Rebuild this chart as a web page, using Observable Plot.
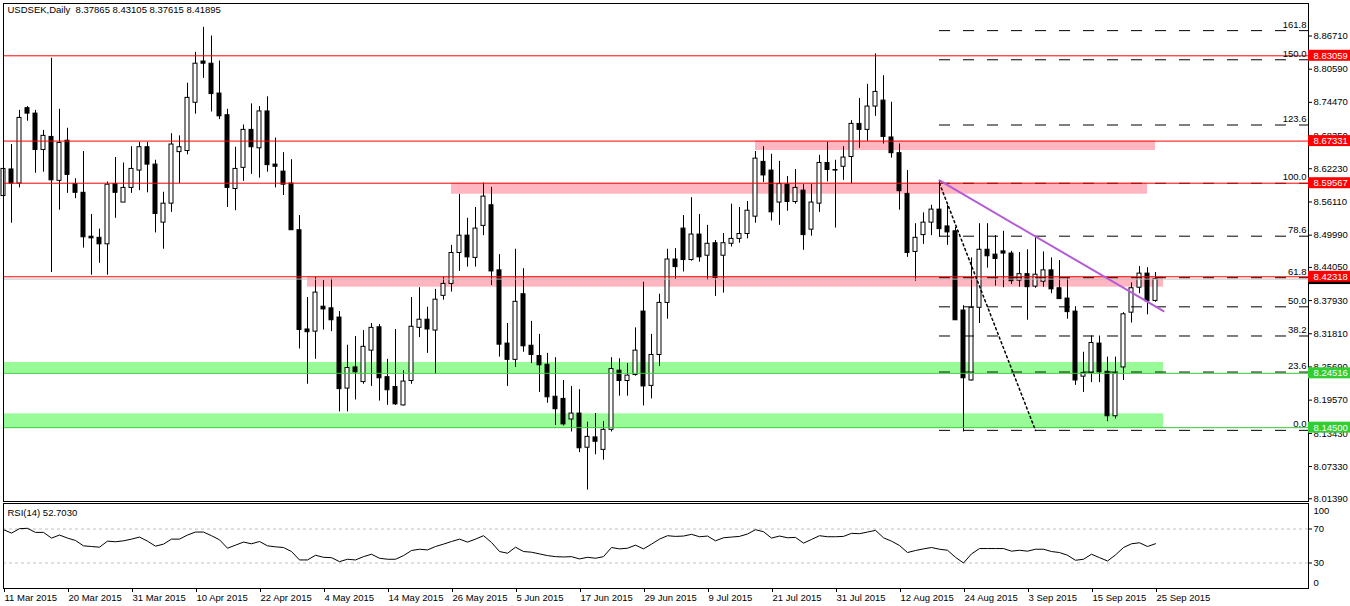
<!DOCTYPE html>
<html><head><meta charset="utf-8">
<script src="https://cdn.jsdelivr.net/npm/d3@7"></script>
<script src="https://cdn.jsdelivr.net/npm/@observablehq/plot@0.6"></script>
<style>
html,body{margin:0;padding:0;background:#fff;}
#chart{width:1350px;height:606px;overflow:hidden;}
#chart svg{display:block;}
</style></head><body><div id="chart"></div>
<script>
const symbol = "USDSEK,Daily";
const open = [8.572,8.621,8.595,8.734,8.724,8.657,8.681,8.600,8.674,8.594,8.578,8.497,8.495,8.483,8.594,8.560,8.587,8.619,8.662,8.630,
8.523,8.558,8.653,8.655,8.744,8.820,8.816,8.761,8.721,8.585,8.624,8.694,8.660,8.728,8.630,8.617,8.595,8.509,8.326,8.322,
8.368,8.365,8.348,8.217,8.256,8.229,8.287,8.330,8.238,8.220,8.186,8.231,8.329,8.344,8.324,8.388,8.410,8.467,8.499,8.458,
8.517,8.555,8.435,8.300,8.270,8.391,8.296,8.277,8.261,8.202,8.198,8.160,8.171,8.108,8.127,8.104,8.141,8.250,8.231,8.242,
8.359,8.222,8.279,8.375,8.455,8.512,8.454,8.501,8.462,8.485,8.462,8.484,8.493,8.502,8.534,8.635,8.619,8.560,8.593,8.561,
8.582,8.510,8.558,8.633,8.620,8.626,8.644,8.705,8.694,8.737,8.748,8.680,8.651,8.576,8.469,8.500,8.523,8.547,8.516,8.507,
8.361,8.232,8.366,8.473,8.464,8.470,8.466,8.416,8.428,8.405,8.414,8.435,8.402,8.383,8.359,8.239,8.246,8.300,8.248,8.166,
8.256,8.357,8.403,8.429,8.37865];
const high = [8.663,8.667,8.730,8.737,8.730,8.693,8.826,8.732,8.697,8.604,8.654,8.538,8.511,8.598,8.643,8.633,8.663,8.671,8.671,8.638,
8.579,8.687,8.683,8.780,8.837,8.883,8.867,8.821,8.732,8.662,8.703,8.742,8.737,8.755,8.679,8.652,8.639,8.536,8.385,8.422,
8.416,8.419,8.359,8.297,8.313,8.324,8.337,8.335,8.271,8.326,8.250,8.385,8.403,8.367,8.400,8.422,8.481,8.575,8.531,8.551,
8.596,8.588,8.464,8.337,8.474,8.438,8.341,8.317,8.282,8.274,8.232,8.221,8.215,8.155,8.171,8.156,8.274,8.272,8.263,8.329,
8.413,8.317,8.391,8.474,8.475,8.536,8.569,8.538,8.518,8.490,8.503,8.557,8.551,8.562,8.654,8.663,8.649,8.636,8.608,8.621,
8.593,8.594,8.647,8.671,8.638,8.663,8.711,8.752,8.778,8.834,8.794,8.745,8.668,8.619,8.521,8.541,8.555,8.601,8.555,8.514,
8.370,8.458,8.521,8.521,8.499,8.507,8.470,8.468,8.473,8.497,8.469,8.458,8.453,8.421,8.368,8.284,8.314,8.314,8.275,8.275,
8.357,8.412,8.442,8.440,8.43105];
const low = [8.530,8.522,8.587,8.710,8.614,8.616,8.431,8.546,8.577,8.567,8.476,8.426,8.448,8.426,8.531,8.560,8.577,8.582,8.578,8.504,
8.474,8.542,8.595,8.648,8.723,8.789,8.727,8.713,8.551,8.545,8.599,8.612,8.605,8.616,8.587,8.573,8.509,8.290,8.225,8.271,
8.325,8.322,8.174,8.174,8.196,8.225,8.221,8.194,8.186,8.186,8.185,8.225,8.311,8.282,8.244,8.380,8.395,8.433,8.441,8.441,
8.499,8.407,8.275,8.221,8.256,8.284,8.263,8.210,8.190,8.149,8.148,8.137,8.099,8.030,8.095,8.085,8.137,8.203,8.203,8.240,
8.185,8.198,8.258,8.345,8.418,8.432,8.452,8.450,8.417,8.387,8.393,8.478,8.485,8.493,8.522,8.597,8.526,8.518,8.544,8.557,
8.472,8.498,8.542,8.598,8.513,8.601,8.595,8.660,8.673,8.719,8.668,8.642,8.546,8.459,8.415,8.483,8.499,8.496,8.481,8.343,
8.137,8.231,8.337,8.439,8.406,8.403,8.409,8.404,8.343,8.402,8.404,8.392,8.382,8.345,8.223,8.210,8.228,8.228,8.156,8.161,
8.232,8.338,8.392,8.353,8.37615];
const close = [8.622,8.595,8.716,8.724,8.657,8.683,8.601,8.670,8.611,8.578,8.496,8.494,8.483,8.593,8.578,8.587,8.622,8.662,8.630,8.539,
8.558,8.667,8.662,8.753,8.816,8.816,8.760,8.719,8.587,8.622,8.694,8.662,8.728,8.629,8.626,8.593,8.509,8.325,8.321,8.394,
8.363,8.343,8.216,8.255,8.247,8.294,8.329,8.236,8.214,8.188,8.230,8.331,8.344,8.326,8.381,8.410,8.467,8.499,8.459,8.512,
8.571,8.433,8.298,8.270,8.377,8.295,8.279,8.260,8.201,8.179,8.151,8.171,8.107,8.128,8.119,8.141,8.253,8.231,8.241,8.287,
8.221,8.279,8.375,8.455,8.441,8.454,8.501,8.459,8.484,8.421,8.485,8.493,8.502,8.545,8.641,8.610,8.542,8.594,8.561,8.587,
8.500,8.560,8.633,8.620,8.619,8.643,8.705,8.694,8.737,8.764,8.681,8.651,8.581,8.467,8.495,8.523,8.547,8.511,8.505,8.343,
8.236,8.366,8.473,8.461,8.456,8.466,8.415,8.428,8.404,8.427,8.435,8.400,8.382,8.358,8.232,8.246,8.301,8.247,8.166,8.245,
8.354,8.402,8.429,8.378,8.41895];
const rsi = [69.2,65.2,70.4,70.8,66,66,59.3,62.9,59.3,56.5,50.2,49.4,48.6,55.7,55,56.1,58.1,60.5,55.7,49.8,
52.2,58.1,58.1,62.9,66.4,66.4,62.1,57.3,47.4,51,54.6,52.6,55.3,50.2,49,48.2,43.5,33.6,33.6,39.1,
36.7,36.3,31.6,34.4,33.6,37.5,40.3,35.6,34.4,34.4,38.7,44.7,46.2,45.4,49.4,52.2,55.3,58.1,54.6,58.1,
62.1,54.2,43.5,41.5,48.6,43.5,42.7,40.7,38.7,37.5,37.1,37.5,34.8,36.7,35.6,37.5,48.2,46.6,47.4,51,
46.6,52.2,58.1,62.1,61.3,61.7,63.7,60.9,61.7,56.1,59.7,60.5,61.3,64.1,69.2,66.8,59.3,61.7,59.7,60.1,
53.4,57.7,62.1,60.9,60.9,61.3,64.9,64.5,66.4,68.4,59.7,55.7,50.6,42.3,44.7,46.6,48.2,46.2,45,36.7,
30,40.7,47,47,47,47,43.9,45,43.9,46.2,46.2,43.5,42.3,39.1,33.2,34.4,40.3,36.3,32.4,39.5,
48.2,52.6,53.8,49.4,52.703];
const dateTickIdx = [0,8,16,24,32,40,48,56,64,72,80,88,96,104,112,120,128,136,144];
const dateLabels = ["11 Mar 2015","20 Mar 2015","31 Mar 2015","10 Apr 2015","22 Apr 2015","4 May 2015","14 May 2015","26 May 2015","5 Jun 2015","17 Jun 2015","29 Jun 2015","9 Jul 2015","21 Jul 2015","31 Jul 2015","12 Aug 2015","24 Aug 2015","3 Sep 2015","15 Sep 2015","25 Sep 2015"];
const priceTicks = [8.86710,8.80590,8.74470,8.68350,8.62230,8.56110,8.49990,8.44050,8.37930,8.31810,8.25690,8.19570,8.13430,8.07330,8.01390];
const redLevels = [8.83059,8.67331,8.59567,8.42318];
const greenLevels = [8.24516,8.14500];
const pinkZoneStart = [94,56,38];
const pinkZoneEnd = [144,143,145];
const pinkZoneTop = [8.6733,8.5957,8.4232];
const pinkZoneBottom = [8.6560,8.5754,8.4040];
const greenZoneStart = [0,0];
const greenZoneEnd = [145,145];
const greenZoneTop = [8.2651,8.1705];
const greenZoneBottom = [8.2452,8.1450];
const fibLevels = [0,23.6,38.2,50,61.8,78.6,100,123.6,150,161.8];
const fibAnchorIdx = [117,129];
const fibAnchorPrice = [8.5955,8.1400];
const trendIdx = [117,145];
const trendPrice = [8.6007,8.3597];
const rsiLevels = [70,30];

// ---- layout ----
const W = 1350;
const FONT = "'Liberation Sans', Arial, sans-serif";
const xMin = 0, xMax = 1305/8;
const yMin = 8.00885, yMax = 8.92701;
const pxPerPrice = 498/(yMax-yMin);
const tagHalf = 5.5/pxPerPrice;
const tagX2 = xMax + 42/8;

const bars = open.map((o,i)=>({i, o, h:high[i], l:low[i], c:close[i]}));
const bull = bars.filter(d=>d.c>=d.o), bear = bars.filter(d=>d.c<d.o);
const pinkZones = pinkZoneStart.map((s,k)=>({s, e:pinkZoneEnd[k], t:pinkZoneTop[k], b:pinkZoneBottom[k]}));
const greenZones = greenZoneStart.map((s,k)=>({s, e:greenZoneEnd[k], t:greenZoneTop[k], b:greenZoneBottom[k]}));
const fibHigh = fibAnchorPrice[0], fibLow = fibAnchorPrice[1];
const fibPrice = l => fibLow + (fibHigh-fibLow)*l/100;
const last = bars[bars.length-1];
const bid = last.c;
const f5 = v => v.toFixed(5);
const header = `${symbol}\u00A0\u00A0${f5(last.o)} ${f5(last.h)} ${f5(last.l)} ${f5(last.c)}`;

const main = Plot.plot({
  width: W, height: 503,
  marginTop: 3, marginBottom: 2, marginLeft: 3, marginRight: 42,
  x: {domain: [xMin, xMax], axis: null},
  y: {domain: [yMin, yMax], axis: null},
  style: {background: "white", fontFamily: FONT, fontSize: "9.5px", overflow: "visible", color: "black"},
  marks: [
    Plot.rect(pinkZones, {x1: "s", x2: "e", y1: "b", y2: "t", fill: "#ffb6c1"}),
    Plot.rect(greenZones, {x1: "s", x2: "e", y1: "b", y2: "t", fill: "#98fb98"}),
    Plot.ruleX(bars, {x: "i", y1: "l", y2: "h", stroke: "black", strokeWidth: 1}),
    Plot.rect(bull, {x1: d=>d.i-0.25, x2: d=>d.i+0.25, y1: "o", y2: "c", fill: "white", stroke: "black", strokeWidth: 1}),
    Plot.rect(bear, {x1: d=>d.i-0.25, x2: d=>d.i+0.25, y1: "o", y2: "c", fill: "black", stroke: "black", strokeWidth: 1}),
    Plot.ruleY([bid], {stroke: "#c0c0c0"}),
    Plot.ruleY(fibLevels, {y: fibPrice, x1: fibAnchorIdx[0], x2: xMax, stroke: "black", strokeDasharray: "11,13"}),
    Plot.ruleY(redLevels, {stroke: "red"}),
    Plot.ruleY(greenLevels, {stroke: "#32cd32"}),
    Plot.line(fibAnchorIdx.map((x,k)=>({x, y: fibAnchorPrice[k]})), {x: "x", y: "y", stroke: "black", strokeDasharray: "2,3"}),
    Plot.line(trendIdx.map((x,k)=>({x, y: trendPrice[k]})), {x: "x", y: "y", stroke: "#b45cd8", strokeWidth: 2}),
    Plot.text(fibLevels, {x: xMax, y: fibPrice, text: d=>d.toFixed(1), textAnchor: "end", dx: -2, dy: -6, fill: "black"}),
    Plot.frame({stroke: "black"}),
    Plot.axisY({ticks: priceTicks, anchor: "right", tickSize: 3, tickPadding: 2, tickFormat: f5, label: null}),
    Plot.rect([bid], {x1: xMax, x2: tagX2, y1: d=>d-tagHalf, y2: d=>d+tagHalf, fill: "black"}),
    Plot.rect(redLevels, {x1: xMax, x2: tagX2, y1: d=>d-tagHalf, y2: d=>d+tagHalf, fill: "red"}),
    Plot.text(redLevels, {x: xMax, y: d=>d, text: f5, dx: 5, textAnchor: "start", fill: "white"}),
    Plot.rect(greenLevels, {x1: xMax, x2: tagX2, y1: d=>d-tagHalf, y2: d=>d+tagHalf, fill: "#32cd32"}),
    Plot.text(greenLevels, {x: xMax, y: d=>d, text: f5, dx: 5, textAnchor: "start", fill: "white"}),
    Plot.text([header], {frameAnchor: "top-left", dx: 4, dy: 3, lineAnchor: "top", textAnchor: "start", fill: "black"})
  ]
});

const lower = Plot.plot({
  width: W, height: 103,
  marginTop: 0, marginBottom: 18, marginLeft: 3, marginRight: 42,
  x: {domain: [xMin, xMax], axis: null},
  y: {domain: [0, 100], axis: null},
  style: {background: "white", fontFamily: FONT, fontSize: "9.5px", overflow: "visible", color: "black"},
  marks: [
    Plot.ruleY(rsiLevels, {stroke: "#c0c0c0", strokeDasharray: "3,3"}),
    Plot.line(rsi, {x: (d,i)=>i, y: d=>d, stroke: "black", strokeWidth: 1}),
    Plot.frame({stroke: "black"}),
    Plot.axisY({ticks: rsiLevels, anchor: "right", tickSize: 3, tickPadding: 2, label: null}),
    Plot.text([100], {x: xMax, y: d=>d, text: d=>String(d), dx: 5, dy: 7, textAnchor: "start", fill: "black"}),
    Plot.text([0], {x: xMax, y: d=>d, text: d=>String(d), dx: 5, dy: -6, textAnchor: "start", fill: "black"}),
    Plot.axisX({ticks: dateTickIdx, anchor: "bottom", tickSize: 4, tickPadding: 2, textAnchor: "start", dx: 1,
      tickFormat: d => dateLabels[dateTickIdx.indexOf(d)], label: null}),
    Plot.text([`RSI(14) ${rsi[rsi.length-1].toFixed(4)}`], {frameAnchor: "top-left", dx: 4, dy: 6, lineAnchor: "top", textAnchor: "start", fill: "black"})
  ]
});

const holder = document.getElementById("chart");
holder.appendChild(main);
holder.appendChild(lower);
</script>
</body></html>
